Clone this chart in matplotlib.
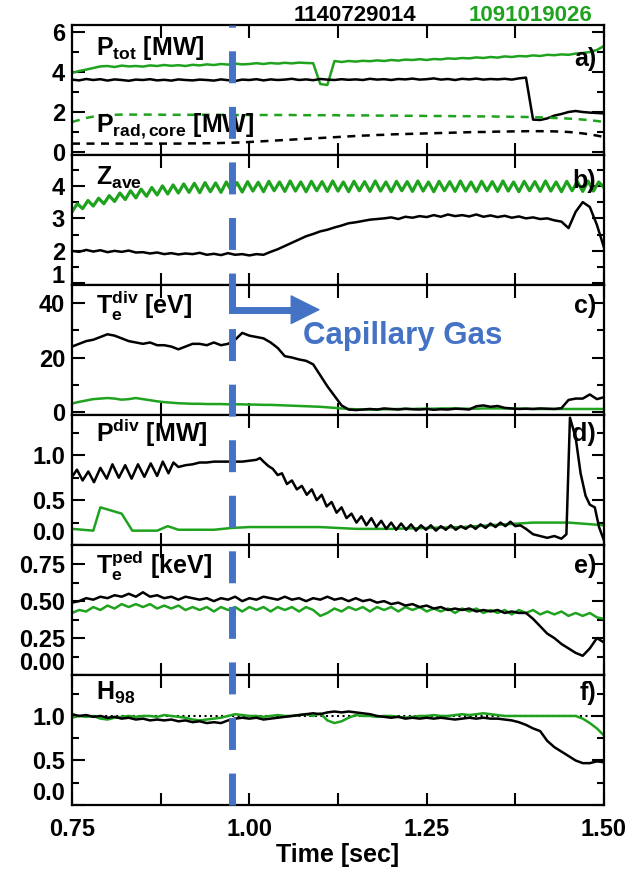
import matplotlib
matplotlib.use('Agg')
import matplotlib.pyplot as plt
from matplotlib import transforms
from matplotlib.lines import Line2D

plt.rcParams['font.family'] = ['Liberation Sans', 'DejaVu Sans']
plt.rcParams['font.weight'] = 'bold'
plt.rcParams['axes.labelweight'] = 'bold'
plt.rcParams['mathtext.fontset'] = 'custom'
plt.rcParams['mathtext.rm'] = 'Liberation Sans:bold'
plt.rcParams['mathtext.it'] = 'Liberation Sans:bold'
plt.rcParams['mathtext.bf'] = 'Liberation Sans:bold'
plt.rcParams['mathtext.sf'] = 'Liberation Sans:bold'

GREEN = '#1fa31f'
BLUE = '#4472c4'

# common time base [sec]
t = [0.75, 0.76, 0.77, 0.78, 0.79, 0.80, 0.81, 0.82, 0.83, 0.84,
     0.85, 0.86, 0.87, 0.88, 0.89, 0.90, 0.91, 0.92, 0.93, 0.94,
     0.95, 0.96, 0.97, 0.98, 0.99, 1.00, 1.01, 1.02, 1.03, 1.04,
     1.05, 1.06, 1.07, 1.08, 1.09, 1.10, 1.11, 1.12, 1.13, 1.14,
     1.15, 1.16, 1.17, 1.18, 1.19, 1.20, 1.21, 1.22, 1.23, 1.24,
     1.25, 1.26, 1.27, 1.28, 1.29, 1.30, 1.31, 1.32, 1.33, 1.34,
     1.35, 1.36, 1.37, 1.38, 1.39, 1.40, 1.41, 1.42, 1.43, 1.44,
     1.45, 1.46, 1.47, 1.48, 1.49, 1.50]

# a) P_tot and P_rad,core [MW]
ptot_114 = [3.62, 3.58, 3.65, 3.60, 3.64, 3.57, 3.63, 3.60, 3.56, 3.62,
            3.60, 3.64, 3.58, 3.61, 3.57, 3.63, 3.60, 3.58, 3.62, 3.60,
            3.57, 3.63, 3.59, 3.55, 3.62, 3.60, 3.64, 3.58, 3.63, 3.60,
            3.62, 3.66, 3.60, 3.63, 3.59, 3.65, 3.62, 3.60, 3.64, 3.61,
            3.63, 3.60, 3.66, 3.62, 3.64, 3.60, 3.65, 3.63, 3.67, 3.62,
            3.64, 3.68, 3.62, 3.65, 3.60, 3.66, 3.63, 3.67, 3.62, 3.65,
            3.63, 3.66, 3.62, 3.68, 3.72, 1.62, 1.60, 1.68, 1.82, 1.90,
            2.00, 2.05, 2.00, 1.97, 1.95, 1.93]
ptot_109 = [3.95, 4.05, 4.12, 4.20, 4.28, 4.30, 4.25, 4.32, 4.28, 4.30,
            4.27, 4.33, 4.30, 4.35, 4.31, 4.34, 4.30, 4.36, 4.33, 4.38,
            4.35, 4.40, 4.37, 4.42, 4.38, 4.40, 4.44, 4.40, 4.45, 4.42,
            4.46, 4.43, 4.47, 4.45, 4.44, 3.40, 3.35, 4.55, 4.50, 4.55,
            4.52, 4.56, 4.54, 4.58, 4.55, 4.60, 4.57, 4.62, 4.60, 4.64,
            4.60, 4.65, 4.63, 4.68, 4.66, 4.70, 4.68, 4.73, 4.70, 4.75,
            4.72, 4.78, 4.75, 4.80, 4.78, 4.83, 4.80, 4.86, 4.84, 4.88,
            4.86, 4.92, 4.95, 5.00, 5.10, 5.30]
prad_109 = [1.50, 1.60, 1.70, 1.77, 1.82, 1.85, 1.86, 1.87, 1.87, 1.87,
            1.87, 1.87, 1.87, 1.86, 1.86, 1.86, 1.86, 1.86, 1.86, 1.86,
            1.86, 1.86, 1.85, 1.85, 1.85, 1.85, 1.85, 1.85, 1.85, 1.85,
            1.85, 1.85, 1.84, 1.84, 1.84, 1.84, 1.84, 1.84, 1.83, 1.83,
            1.83, 1.83, 1.83, 1.82, 1.82, 1.82, 1.82, 1.81, 1.81, 1.81,
            1.80, 1.80, 1.80, 1.80, 1.79, 1.79, 1.79, 1.78, 1.78, 1.78,
            1.77, 1.77, 1.76, 1.76, 1.75, 1.74, 1.73, 1.72, 1.70, 1.69,
            1.67, 1.65, 1.62, 1.59, 1.55, 1.50]
prad_114 = [0.42, 0.42, 0.42, 0.42, 0.42, 0.42, 0.42, 0.42, 0.42, 0.42,
            0.42, 0.42, 0.42, 0.42, 0.42, 0.42, 0.43, 0.43, 0.43, 0.44,
            0.44, 0.45, 0.46, 0.47, 0.48, 0.50, 0.52, 0.54, 0.56, 0.58,
            0.60, 0.62, 0.64, 0.66, 0.68, 0.70, 0.72, 0.74, 0.76, 0.78,
            0.80, 0.82, 0.83, 0.85, 0.86, 0.88, 0.89, 0.90, 0.91, 0.92,
            0.93, 0.94, 0.95, 0.96, 0.97, 0.98, 0.99, 1.00, 1.00, 1.01,
            1.02, 1.02, 1.03, 1.03, 1.04, 1.04, 1.04, 1.04, 1.03, 1.02,
            1.00, 0.97, 0.93, 0.88, 0.82, 0.75]

# b) Z_ave
zave_114 = [2.00, 1.97, 2.03, 1.98, 2.02, 1.96, 2.00, 1.97, 2.01, 1.95,
            1.96, 1.92, 1.95, 1.90, 1.93, 1.89, 1.92, 1.90, 1.94, 1.88,
            1.91, 1.87, 1.93, 1.88, 1.90, 1.86, 1.90, 1.88, 1.97, 2.05,
            2.15, 2.25, 2.35, 2.45, 2.52, 2.60, 2.65, 2.72, 2.78, 2.85,
            2.88, 2.92, 2.96, 2.98, 3.00, 3.03, 2.98, 3.05, 3.02, 3.07,
            3.04, 3.10, 3.05, 3.12, 3.07, 3.10, 3.06, 3.12, 3.05, 3.09,
            3.04, 3.08, 3.02, 3.06, 3.00, 3.03, 2.98, 3.00, 2.94, 2.90,
            2.70, 3.20, 3.50, 3.35, 2.80, 2.10]
zave_t = [0.75, 0.7575, 0.765, 0.7725, 0.78, 0.7875, 0.795, 0.8025, 0.81, 0.8175,
          0.825, 0.8325, 0.84, 0.8475, 0.855, 0.8625, 0.87, 0.8775, 0.885, 0.8925,
          0.9, 0.9075, 0.915, 0.9225, 0.93, 0.9375, 0.945, 0.9525, 0.96, 0.9675,
          0.975, 0.9825, 0.99, 0.9975, 1.005, 1.0125, 1.02, 1.0275, 1.035, 1.0425,
          1.05, 1.0575, 1.065, 1.0725, 1.08, 1.0875, 1.095, 1.1025, 1.11, 1.1175,
          1.125, 1.1325, 1.14, 1.1475, 1.155, 1.1625, 1.17, 1.1775, 1.185, 1.1925,
          1.2, 1.2075, 1.215, 1.2225, 1.23, 1.2375, 1.245, 1.2525, 1.26, 1.2675,
          1.275, 1.2825, 1.29, 1.2975, 1.305, 1.3125, 1.32, 1.3275, 1.335, 1.3425,
          1.35, 1.3575, 1.365, 1.3725, 1.38, 1.3875, 1.395, 1.4025, 1.41, 1.4175,
          1.425, 1.4325, 1.44, 1.4475, 1.455, 1.4625, 1.47, 1.4775, 1.485, 1.4925,
          1.5]
zave_109 = [3.20, 3.45, 3.30, 3.55, 3.38, 3.62, 3.45, 3.70, 3.52, 3.78,
            3.58, 3.85, 3.63, 3.90, 3.68, 3.95, 3.72, 4.00, 3.75, 4.03,
            3.78, 4.06, 3.80, 4.08, 3.79, 4.10, 3.82, 4.09, 3.80, 4.12,
            3.83, 4.10, 3.81, 4.13, 3.84, 4.11, 3.82, 4.14, 3.85, 4.12,
            3.83, 4.15, 3.84, 4.12, 3.82, 4.14, 3.85, 4.13, 3.83, 4.15,
            3.84, 4.12, 3.82, 4.14, 3.85, 4.13, 3.83, 4.15, 3.84, 4.12,
            3.82, 4.14, 3.85, 4.13, 3.83, 4.15, 3.84, 4.12, 3.82, 4.14,
            3.85, 4.13, 3.83, 4.15, 3.84, 4.12, 3.82, 4.14, 3.85, 4.13,
            3.83, 4.15, 3.84, 4.12, 3.82, 4.14, 3.85, 4.13, 3.83, 4.15,
            3.84, 4.12, 3.82, 4.14, 3.85, 4.13, 3.83, 4.15, 3.84, 4.12,
            3.95]

# c) T_e^div [eV]
tediv_114 = [24.0, 25.0, 26.0, 26.5, 27.5, 28.5, 28.0, 27.0, 26.0, 25.5,
             25.0, 25.5, 24.5, 24.5, 24.0, 23.0, 24.0, 25.0, 25.0, 24.5,
             25.5, 24.5, 25.0, 26.5, 29.0, 28.0, 27.5, 27.0, 25.5, 23.5,
             20.5, 20.0, 19.3, 18.8, 17.5, 13.5, 9.5, 6.0, 2.5, 1.0,
             0.8, 1.0, 1.2, 1.0, 1.4, 1.2, 1.0, 1.3, 1.1, 1.0,
             1.2, 0.9, 1.1, 1.0, 1.3, 1.2, 1.0, 2.2, 2.5, 2.0,
             2.3, 1.6, 1.4, 1.2, 1.3, 1.2, 1.4, 1.3, 1.2, 1.5,
             4.5, 5.0, 5.0, 6.5, 4.8, 5.5]
tediv_109 = [3.2, 3.8, 4.3, 4.8, 5.0, 5.2, 5.0, 4.6, 4.8, 5.2,
             4.8, 4.4, 4.0, 3.7, 3.5, 3.3, 3.2, 3.1, 3.1, 3.0,
             3.0, 3.0, 2.9, 2.9, 2.9, 2.8, 2.8, 2.7, 2.7, 2.6,
             2.5, 2.4, 2.3, 2.2, 2.1, 2.0, 1.8, 1.6, 1.4, 1.2,
             1.1, 1.0, 1.0, 1.0, 1.1, 1.1, 1.2, 1.2, 1.2, 1.3,
             1.3, 1.3, 1.4, 1.4, 1.4, 1.3, 1.3, 1.3, 1.4, 1.4,
             1.4, 1.4, 1.3, 1.3, 1.3, 1.2, 1.2, 1.2, 1.2, 1.2,
             1.2, 1.2, 1.2, 1.2, 1.2, 1.2]

# d) P^div [MW]
pdiv_t = [0.75, 0.757, 0.765, 0.773, 0.781, 0.79, 0.799, 0.807, 0.816, 0.825,
          0.834, 0.843, 0.852, 0.861, 0.87, 0.878, 0.886, 0.893, 0.90, 0.91,
          0.92, 0.93, 0.94, 0.95, 0.96, 0.97, 0.98, 0.99, 1.00, 1.01,
          1.015, 1.02, 1.027, 1.033, 1.04, 1.046, 1.053, 1.06, 1.067, 1.074,
          1.081, 1.088, 1.095, 1.102, 1.109, 1.116, 1.123, 1.13, 1.137, 1.144,
          1.151, 1.158, 1.165, 1.172, 1.179, 1.186, 1.193, 1.20, 1.207, 1.214,
          1.221, 1.228, 1.235, 1.242, 1.249, 1.256, 1.263, 1.27, 1.277, 1.284,
          1.291, 1.298, 1.305, 1.312, 1.319, 1.326, 1.333, 1.34, 1.347, 1.354,
          1.361, 1.368, 1.375, 1.382, 1.39, 1.40, 1.41, 1.42, 1.43, 1.44,
          1.447, 1.452, 1.46, 1.467, 1.474, 1.48, 1.487, 1.493, 1.50]
pdiv_114 = [0.76, 0.84, 0.72, 0.82, 0.70, 0.86, 0.74, 0.90, 0.75, 0.89,
            0.74, 0.90, 0.76, 0.91, 0.77, 0.93, 0.80, 0.92, 0.87, 0.89,
            0.90, 0.92, 0.92, 0.93, 0.93, 0.93, 0.93, 0.93, 0.94, 0.95,
            0.97, 0.93, 0.88, 0.85, 0.78, 0.80, 0.68, 0.72, 0.62, 0.66,
            0.56, 0.62, 0.50, 0.56, 0.43, 0.48, 0.36, 0.42, 0.30, 0.35,
            0.25, 0.32, 0.22, 0.30, 0.20, 0.27, 0.18, 0.25, 0.17, 0.24,
            0.17, 0.23, 0.16, 0.22, 0.17, 0.22, 0.16, 0.21, 0.17, 0.22,
            0.17, 0.21, 0.18, 0.22, 0.18, 0.23, 0.19, 0.24, 0.20, 0.25,
            0.21, 0.26, 0.21, 0.22, 0.18, 0.12, 0.10, 0.08, 0.10, 0.07,
            0.12, 1.42, 1.20, 0.80, 0.55, 0.45, 0.42, 0.20, 0.05]
pdiv109_t = [0.75, 0.78, 0.79, 0.82, 0.835, 0.85, 0.87, 0.885, 0.90, 0.95,
             0.975, 1.00, 1.10, 1.15, 1.20, 1.30, 1.40, 1.45, 1.50]
pdiv_109 = [0.18, 0.16, 0.42, 0.35, 0.16, 0.16, 0.16, 0.21, 0.17, 0.17,
            0.19, 0.20, 0.20, 0.18, 0.18, 0.20, 0.25, 0.25, 0.22]

# e) T_e^ped [keV]
teped_114 = [0.49, 0.50, 0.52, 0.51, 0.53, 0.52, 0.54, 0.53, 0.55, 0.53,
             0.56, 0.53, 0.54, 0.52, 0.53, 0.51, 0.53, 0.52, 0.51, 0.52,
             0.50, 0.52, 0.51, 0.53, 0.50, 0.52, 0.51, 0.53, 0.52, 0.51,
             0.53, 0.51, 0.52, 0.50, 0.52, 0.51, 0.53, 0.51, 0.52, 0.50,
             0.52, 0.50, 0.51, 0.49, 0.50, 0.48, 0.49, 0.47, 0.48, 0.46,
             0.47, 0.45, 0.46, 0.44, 0.45, 0.44, 0.45, 0.43, 0.44, 0.43,
             0.44, 0.42, 0.43, 0.42, 0.42, 0.38, 0.33, 0.28, 0.25, 0.21,
             0.18, 0.15, 0.13, 0.18, 0.25, 0.22]
teped_109 = [0.42, 0.44, 0.43, 0.46, 0.44, 0.47, 0.45, 0.48, 0.46, 0.48,
             0.46, 0.48, 0.45, 0.47, 0.45, 0.47, 0.44, 0.46, 0.44, 0.46,
             0.43, 0.46, 0.44, 0.46, 0.43, 0.46, 0.44, 0.46, 0.43, 0.46,
             0.44, 0.46, 0.43, 0.46, 0.44, 0.40, 0.42, 0.45, 0.43, 0.46,
             0.44, 0.46, 0.43, 0.46, 0.44, 0.46, 0.43, 0.46, 0.44, 0.46,
             0.43, 0.45, 0.43, 0.45, 0.42, 0.45, 0.43, 0.45, 0.42, 0.44,
             0.42, 0.44, 0.41, 0.44, 0.42, 0.44, 0.41, 0.43, 0.41, 0.43,
             0.40, 0.42, 0.40, 0.42, 0.39, 0.38]

# f) H98
h98_114 = [1.02, 1.00, 1.01, 0.99, 1.00, 0.98, 0.99, 0.97, 0.98, 0.96,
           0.97, 0.95, 0.96, 0.95, 0.96, 0.94, 0.95, 0.93, 0.94, 0.92,
           0.93, 0.92, 0.95, 0.97, 0.98, 0.97, 0.98, 0.96, 0.97, 0.98,
           0.99, 1.00, 1.01, 1.02, 1.03, 1.02, 1.04, 1.05, 1.04, 1.05,
           1.04, 1.03, 1.02, 1.00, 0.99, 0.98, 0.99, 0.97, 0.98, 0.97,
           0.98, 0.97, 0.98, 0.97, 0.96, 0.97, 0.98, 0.97, 0.98, 0.97,
           0.97, 0.96, 0.95, 0.93, 0.90, 0.86, 0.83, 0.72, 0.65, 0.60,
           0.55, 0.50, 0.47, 0.47, 0.49, 0.48]
h98_109 = [0.98, 1.00, 0.99, 1.00, 0.97, 0.96, 0.98, 0.99, 1.00, 0.99,
           1.00, 1.00, 0.99, 1.01, 1.00, 0.99, 0.98, 0.96, 0.95, 0.96,
           0.97, 0.98, 1.00, 1.02, 1.01, 1.00, 1.00, 0.99, 1.00, 1.01,
           1.00, 1.00, 1.01, 1.02, 1.00, 1.03, 0.95, 0.92, 0.94, 0.98,
           1.01, 1.00, 1.00, 0.99, 1.00, 1.00, 0.99, 0.98, 0.99, 1.00,
           1.00, 1.01, 1.00, 1.00, 1.01, 1.02, 1.01, 1.02, 1.03, 1.02,
           1.01, 1.00, 1.00, 1.00, 1.00, 1.00, 1.00, 1.00, 1.00, 1.00,
           1.00, 1.00, 0.97, 0.92, 0.86, 0.78]

t_gas = 0.975
shots = ['1140729014', '1091019026']

fig = plt.figure(figsize=(6.33, 8.75), dpi=100)
W, H = 633.0, 875.0
left, right, top, ph = 72, 604, 25, 130
axes = []
for i in range(6):
    ax = fig.add_axes([left / W, 1 - (top + ph * (i + 1)) / H, (right - left) / W, ph / H])
    axes.append(ax)

# ylim, major ticks, labels, minor ticks, alignment of lowest label
panels = [
    ((-0.15, 6.35), [0, 2, 4, 6], ['0', '2', '4', '6'], [1, 3, 5], None),
    ((0.95, 4.95), [1, 2, 3, 4], ['1', '2', '3', '4'], [1.5, 2.5, 3.5, 4.5], 'baseline'),
    ((-1.0, 46.5), [0, 20, 40], ['0', '20', '40'], [10, 30], None),
    ((0.0, 1.45), [0, 0.5, 1.0], ['0.0', '0.5', '1.0'], [0.25, 0.75, 1.25], 'bottom'),
    ((0.0, 0.88), [0, 0.25, 0.5, 0.75], ['0.00', '0.25', '0.50', '0.75'], [0.125, 0.375, 0.625], 'bottom'),
    ((0.0, 1.46), [0, 0.5, 1.0], ['0.0', '0.5', '1.0'], [0.25, 0.75, 1.25], 'bottom'),
]

for i, ax in enumerate(axes):
    ylim, maj, lab, mnr, va0 = panels[i]
    ax.set_xlim(0.75, 1.5)
    ax.set_ylim(*ylim)
    ax.set_yticks(maj)
    ax.set_yticklabels(lab)
    ax.set_yticks(mnr, minor=True)
    ax.set_xticks([0.75, 1.0, 1.25, 1.5])
    ax.set_xticks([0.875, 1.125, 1.375], minor=True)
    ax.tick_params(which='both', direction='in', top=True, right=True, width=1.5,
                   labelsize=17, pad=5)
    ax.tick_params(which='major', length=9)
    ax.tick_params(which='minor', length=5)
    ax.tick_params(axis='x', which='minor', length=9)
    for s in ax.spines.values():
        s.set_linewidth(1.6)
    if i < 5:
        ax.set_xticklabels([])
    if va0:
        ax.get_yticklabels()[0].set_verticalalignment(va0)

lw = 1.8
ax = axes[0]
ax.plot(t, ptot_109, color=GREEN, lw=lw)
ax.plot(t, ptot_114, color='black', lw=lw)
ax.plot(t, prad_109, color=GREEN, lw=lw, ls=(0, (3.2, 2.6)))
ax.plot(t, prad_114, color='black', lw=lw, ls=(0, (3.2, 2.6)))
ax.text(0.045, 0.82, r'P$_{\mathrm{tot}}$ [MW]', transform=ax.transAxes, fontsize=18, va='center')
ax.text(0.045, 0.22, r'P$_{\mathrm{rad,core}}$ [MW]', transform=ax.transAxes, fontsize=18, va='center')

ax = axes[1]
ax.plot(zave_t, zave_109, color=GREEN, lw=2.3)
ax.plot(t, zave_114, color='black', lw=lw)
ax.text(0.045, 0.82, r'Z$_{\mathrm{ave}}$', transform=ax.transAxes, fontsize=18, va='center')

ax = axes[2]
ax.plot(t, tediv_109, color=GREEN, lw=lw)
ax.plot(t, tediv_114, color='black', lw=lw)
ax.text(0.045, 0.84, r'T$_{\mathrm{e}}^{\mathrm{div}}$ [eV]', transform=ax.transAxes, fontsize=18, va='center')

ax = axes[3]
ax.plot(pdiv109_t, pdiv_109, color=GREEN, lw=lw)
ax.plot(pdiv_t, pdiv_114, color='black', lw=lw)
ax.text(0.045, 0.86, r'P$^{\mathrm{div}}$ [MW]', transform=ax.transAxes, fontsize=18, va='center')

ax = axes[4]
ax.plot(t, teped_109, color=GREEN, lw=lw)
ax.plot(t, teped_114, color='black', lw=lw)
ax.text(0.045, 0.84, r'T$_{\mathrm{e}}^{\mathrm{ped}}$ [keV]', transform=ax.transAxes, fontsize=18, va='center')

ax = axes[5]
ax.axhline(1.0, color='black', lw=1.5, ls=':')
ax.plot(t, h98_109, color=GREEN, lw=lw)
ax.plot(t, h98_114, color='black', lw=lw)
ax.text(0.045, 0.86, r'H$_{\mathrm{98}}$', transform=ax.transAxes, fontsize=18, va='center')
ax.set_xticklabels(['0.75', '1.00', '1.25', '1.50'])
ax.tick_params(axis='x', pad=9)
ax.set_xlabel('Time [sec]', fontsize=18, fontweight='bold', labelpad=2)

letters = ['a)', 'b)', 'c)', 'd)', 'e)', 'f)']
ly = [0.74, 0.80, 0.84, 0.85, 0.84, 0.86]
for ax, l, y in zip(axes, letters, ly):
    ax.text(0.985, y, l, transform=ax.transAxes, fontsize=18, ha='right', va='center')

fig.text(0.56, 0.982, shots[0], color='black', fontsize=16, fontweight='bold', ha='center', va='center')
fig.text(0.838, 0.982, shots[1], color=GREEN, fontsize=16, fontweight='bold', ha='center', va='center')

# capillary gas puff: dashed vertical marker through all panels
tr = transforms.blended_transform_factory(axes[5].transData, fig.transFigure)
fig.add_artist(Line2D([t_gas, t_gas], [1 - 805 / H, 1 - 25 / H], transform=tr, color=BLUE,
                      lw=5, ls=(0, (4.6, 3.4)), solid_capstyle='butt', zorder=10))

ax = axes[2]
xt = ax.get_xaxis_transform()
ax.plot([t_gas, t_gas, 1.08], [1.0, 0.81, 0.81], transform=xt, color=BLUE, lw=5,
        solid_joinstyle='miter', solid_capstyle='butt', clip_on=False, zorder=11)
ax.annotate('', xy=(1.10, 0.81), xytext=(1.07, 0.81), xycoords=xt, textcoords=xt,
            arrowprops=dict(arrowstyle='-|>,head_length=0.9,head_width=0.45', color=BLUE, lw=1,
                            mutation_scale=22, shrinkA=0, shrinkB=0), zorder=11)
ax.text(1.075, 0.61, 'Capillary Gas', transform=xt, color=BLUE, fontsize=22.5, va='center', ha='left')

fig.savefig('out.png', dpi=100)
